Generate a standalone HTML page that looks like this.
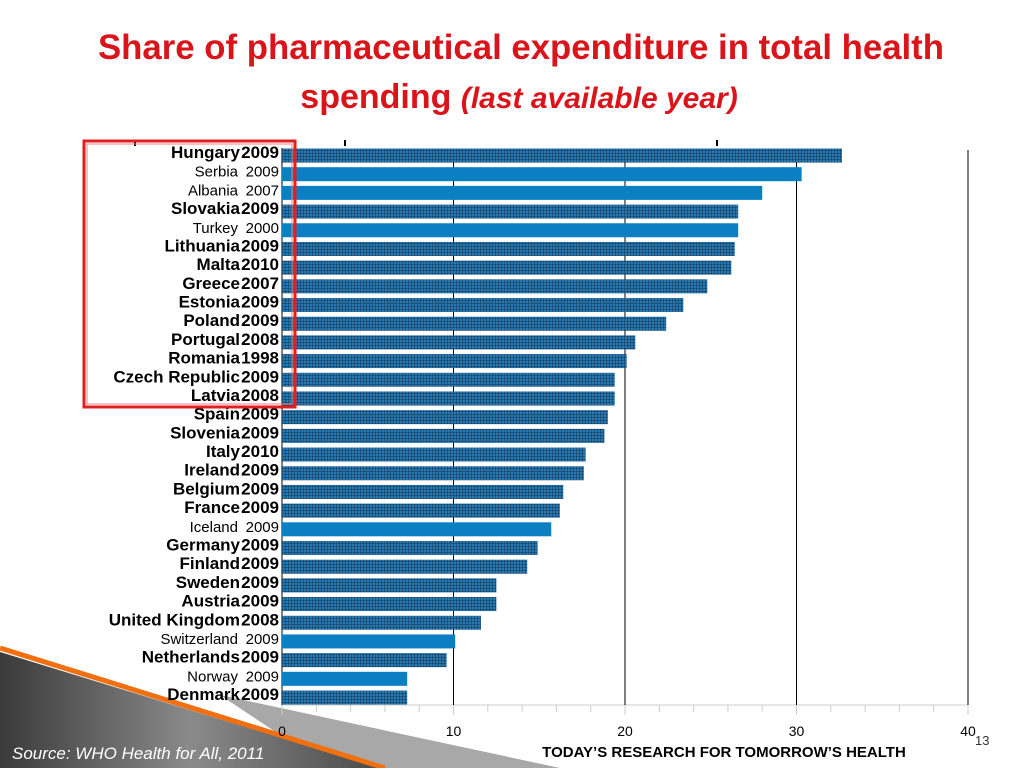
<!DOCTYPE html>
<html><head><meta charset="utf-8"><style>
body{margin:0;background:#fff;}
svg{display:block;font-family:"Liberation Sans",sans-serif;}
</style></head><body>
<svg id="c" width="1024" height="768" viewBox="0 0 1024 768">
<defs>
<pattern id="hatch" width="3" height="3" patternUnits="userSpaceOnUse">
<rect width="3" height="3" fill="#2a78b0"/>
<path d="M0 0H3M0 0V3" stroke="#0e3556" stroke-width="1"/>
</pattern>
<linearGradient id="gd" x1="0" y1="0" x2="1" y2="0">
<stop offset="0" stop-color="#3a3a3a"/><stop offset="0.5" stop-color="#8a8a8a"/><stop offset="1" stop-color="#4a4a4a"/>
</linearGradient>
</defs>
<g>
<polygon points="220,695 560,768 330,768" fill="#a8a8a8"/>
<polygon points="0,652 380,768 0,768" fill="url(#gd)"/>
<line x1="0" y1="648" x2="385" y2="768" stroke="#f07010" stroke-width="5"/>
</g>
<text x="521" y="59" text-anchor="middle" font-size="35" font-weight="bold" fill="#d9141b" textLength="846" lengthAdjust="spacingAndGlyphs">Share of pharmaceutical expenditure in total health</text>
<text x="519" y="108" text-anchor="middle" font-size="34" font-weight="bold" fill="#d9141b">spending <tspan font-style="italic" font-size="30">(last available year)</tspan></text>
<g id="grid"></g>
<g id="bars"></g>
<g id="labels"></g>
<rect x="84" y="141" width="211" height="266" fill="none" stroke="#e02020" stroke-width="3"/>
<rect x="87" y="144" width="205" height="260" fill="none" stroke="#f08080" stroke-width="1"/>
<text x="12" y="759" font-size="17" font-style="italic" fill="#fff">Source: WHO Health for All, 2011</text>
<text x="724" y="757" text-anchor="middle" font-size="15" font-weight="bold" fill="#000">TODAY’S RESEARCH FOR TOMORROW’S HEALTH</text>
<text x="975" y="745" font-size="13" fill="#333">13</text>
</svg>
<script>
const countries=["Hungary","Serbia","Albania","Slovakia","Turkey","Lithuania","Malta","Greece","Estonia","Poland","Portugal","Romania","Czech Republic","Latvia","Spain","Slovenia","Italy","Ireland","Belgium","France","Iceland","Germany","Finland","Sweden","Austria","United Kingdom","Switzerland","Netherlands","Norway","Denmark"];
const years=["2009","2009","2007","2009","2000","2009","2010","2007","2009","2009","2008","1998","2009","2008","2009","2009","2010","2009","2009","2009","2009","2009","2009","2009","2009","2008","2009","2009","2009","2009"];
const values=[32.65,30.3,28.0,26.6,26.6,26.4,26.2,24.8,23.4,22.4,20.6,20.1,19.4,19.4,19.0,18.8,17.7,17.6,16.4,16.2,15.7,14.9,14.3,12.5,12.5,11.6,10.1,9.6,7.3,7.3];
const member=[1,0,0,1,0,1,1,1,1,1,1,1,1,1,1,1,1,1,1,1,0,1,1,1,1,1,0,1,0,1];
const ticks=[0,10,20,30,40];
const NS="http://www.w3.org/2000/svg";
const x=v=>282+v*17.15;
const y=i=>155.5+i*18.69;
function mk(t,a,p){const e=document.createElementNS(NS,t);for(const k in a)e.setAttribute(k,a[k]);p.appendChild(e);return e;}
const G=document.getElementById('grid'),B=document.getElementById('bars'),L=document.getElementById('labels');
mk('line',{x1:282,y1:705,x2:968,y2:705,stroke:'#ccc'},G);
for(let v=0;v<=40;v+=2){mk('line',{x1:x(v),y1:705,x2:x(v),y2:v%10?712:715,stroke:'#ccc'},G);}
ticks.forEach(t=>{
  if(t>0){const l=mk('line',{x1:x(t),y1:150,x2:x(t),y2:705,stroke:'#000','stroke-width':1},G);
  
  }
  const tx=mk('text',{x:x(t),y:736,'text-anchor':'middle','font-size':14,fill:'#000'},G);
  tx.textContent=t;
  
  
});
mk('line',{x1:282,y1:148,x2:282,y2:705,stroke:'#000'},G);
[135,345,717].forEach(px=>mk('line',{x1:px,y1:140,x2:px,y2:146,stroke:'#000','stroke-width':2},G));
countries.forEach((c,i)=>{
  const r=mk('rect',{x:282,y:y(i)-7,width:x(values[i])-282,height:14,fill:member[i]?'url(#hatch)':'#0a80c2'},B);
  
  
  const b=member[i];
  const fs=b?17:15;
  const yr=mk('text',{x:279,y:y(i)+2.5,'text-anchor':'end','font-size':fs,'font-weight':b?'bold':'normal',fill:'#000'},L);
  yr.textContent=years[i];
  
  
  const nm=mk('text',{x:b?240:238,y:y(i)+2.5,'text-anchor':'end','font-size':fs,'font-weight':b?'bold':'normal',fill:'#000'},L);
  nm.textContent=c;
  
  
});
</script>
</body></html>
